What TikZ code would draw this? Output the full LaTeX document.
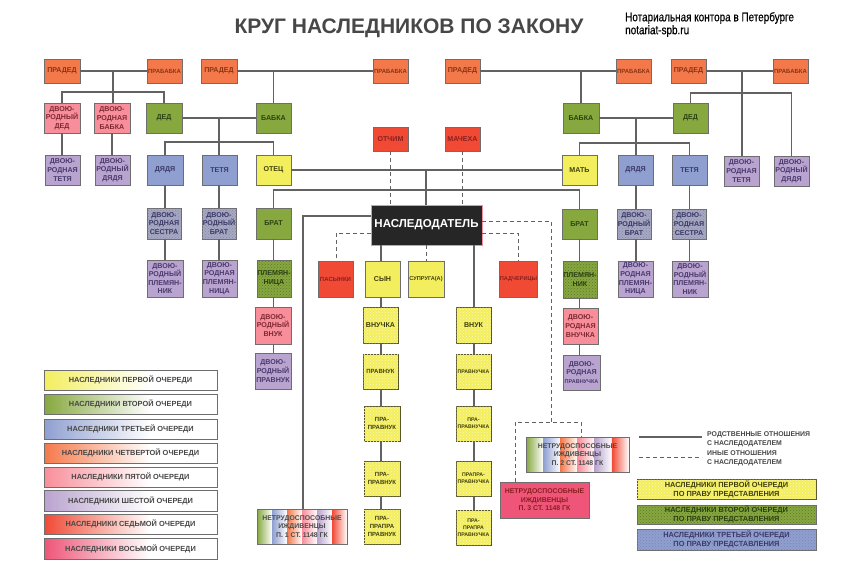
\documentclass[tikz,border=0pt]{standalone}
\usepackage{fontspec}
\setmainfont{Liberation Sans}
\newfontfamily\narrowfont[FakeStretch=0.8,FakeBold=0.4]{Liberation Sans}
\usetikzlibrary{patterns}
\definecolor{cOrange}{HTML}{F4794A}
\definecolor{cPink}{HTML}{F88E9A}
\definecolor{cLilac}{HTML}{B9A3CF}
\definecolor{cGreen}{HTML}{86A83F}
\definecolor{cBlue}{HTML}{8F9FD0}
\definecolor{cYellow}{HTML}{F3EE5E}
\definecolor{cRed}{HTML}{F04A35}
\definecolor{cCrim}{HTML}{EE5578}
\definecolor{cSlate}{HTML}{A6A8C4}
\definecolor{cLine}{HTML}{626262}
\definecolor{cEdge}{HTML}{6E6E6E}
\definecolor{tBlue}{HTML}{3C3A68}
\definecolor{tLilac}{HTML}{4A3A6E}
\definecolor{tRed}{HTML}{8A1F1F}
\definecolor{tOrange}{HTML}{8A3414}
\definecolor{tPink}{HTML}{7E2A34}
\definecolor{tGreen}{HTML}{2C4212}
\definecolor{tYellow}{HTML}{40400C}
\tikzset{
  x=1pt,y=-1pt,
  base/.style={draw=cEdge,line width=0.9pt,inner sep=0pt,align=center,text=black!70,font=\bfseries\fontsize{7.1}{8.6}\selectfont},
  orangebox/.style={base,fill=cOrange,text=tOrange},
  pinkbox/.style={base,fill=cPink,text=tPink},
  lilacbox/.style={base,fill=cLilac,text=tLilac},
  greenbox/.style={base,fill=cGreen,text=tGreen},
  bluebox/.style={base,fill=cBlue,text=tBlue},
  yellowbox/.style={base,fill=cYellow,text=tYellow},
  redbox/.style={base,fill=cRed,text=tRed},
  hatchY/.style={base,fill=cYellow,text=tYellow,draw=black!50!olive,
    postaction={pattern=crosshatch dots,pattern color=white!55!cYellow}},
  hatchG/.style={base,fill=cGreen,text=tGreen,
    postaction={pattern=crosshatch dots,pattern color=black!30!cGreen}},
  hatchB/.style={base,fill=cSlate,text=tBlue,
    postaction={pattern=crosshatch dots,pattern color=black!18!cSlate}},
  hatchL/.style={base,fill=cBlue,text=tBlue,
    postaction={pattern=crosshatch dots,pattern color=black!15!cBlue}},
  keybox/.style={draw=cEdge,line width=0.9pt,inner sep=0pt,align=center,text=black!72,font=\bfseries\fontsize{7.4}{8.8}\selectfont},
  keytwo/.style={font=\bfseries\fontsize{7.4}{8.8}\selectfont},
  deptext/.style={font=\bfseries\fontsize{6.9}{8.6}\selectfont},
  smfont/.style={font=\bfseries\fontsize{6}{8}\selectfont},
  mdfont/.style={font=\bfseries\fontsize{5.6}{7}\selectfont},
  xsfont/.style={font=\bfseries\fontsize{5.2}{7}\selectfont},
  wire/.style={draw=cLine,line width=1.2pt},
  dashwire/.style={draw=cLine,line width=1pt,dash pattern=on 4pt off 3pt},
  plain/.style={inner sep=0pt,align=left,text=black!72,font=\bfseries\fontsize{6.9}{8.8}\selectfont,anchor=west}
}
\newcommand{\bx}[7]{% name style x1 y1 x2 y2 text
  \node[#2,minimum width={(#5-#3)*1pt},minimum height={(#6-#4)*1pt}] (#1) at ({(#3+#5)/2},{(#4+#6)/2}) {#7};}
% legend box fading from a colour into white
\newcommand{\keyb}[5]{% name y1 y2 colour text
  \fill[white] (44,#2) rectangle (217,#3);
  \shade[left color=#4,right color=white] (44,#2) rectangle (150,#3);
  \bx{#1}{keybox}{44}{#2}{217}{#3}{#5}}
% striped box
\newcommand{\stripes}[4]{% x1 y1 x2 y2
  \pgfmathsetmacro{\sw}{(#3-#1)/6}
  \foreach \c [count=\i from 0] in {cGreen,cBlue,cOrange,cPink,cLilac,cRed}{
    \pgfmathsetmacro{\sa}{#1+\i*\sw}
    \pgfmathsetmacro{\sb}{#1+(\i+1)*\sw}
    \shade[left color=\c,right color=white] (\sa,#2) rectangle (\sb,#4);
  }}
\begin{document}
\begin{tikzpicture}
\useasboundingbox (0,0) rectangle (853,581);
\fill[white] (0,0) rectangle (853,581);
% title
\node[inner sep=0pt,text=black!72,font=\bfseries\fontsize{21}{25}\selectfont] (title) at (409,28) {КРУГ НАСЛЕДНИКОВ ПО ЗАКОНУ};
\node[inner sep=0pt,anchor=west,font=\narrowfont\fontsize{12.4}{14}\selectfont] (firm) at (625,18) {Нотариальная контора в Петербурге};
\node[inner sep=0pt,anchor=west,font=\narrowfont\fontsize{12.4}{14}\selectfont] (site) at (625,31) {notariat-spb.ru};
% --- nodes ---
\bx{pdL}{orangebox}{44}{59}{80}{83}{ПРАДЕД}
\bx{pbL}{orangebox,smfont}{147}{59}{182}{83}{ПРАБАБКА}
\bx{pdM}{orangebox}{201}{59}{237}{83}{ПРАДЕД}
\bx{pbM}{orangebox,smfont}{373}{59}{408}{83}{ПРАБАБКА}
\bx{pdC}{orangebox}{445}{59}{480}{83}{ПРАДЕД}
\bx{pbC}{orangebox,smfont}{616}{59}{651}{83}{ПРАБАБКА}
\bx{pdR}{orangebox}{671}{59}{706}{83}{ПРАДЕД}
\bx{pbR}{orangebox,smfont}{773}{59}{808}{83}{ПРАБАБКА}
\bx{ddL}{pinkbox}{44}{103}{80}{133}{ДВОЮ-\\РОДНЫЙ\\ДЕД}
\bx{dbL}{pinkbox}{94}{103}{130}{133}{ДВОЮ-\\РОДНАЯ\\БАБКА}
\bx{dedL}{greenbox}{146}{103}{182}{133}{ДЕД}
\bx{babL}{greenbox}{256}{103}{291}{133}{БАБКА}
\bx{babR}{greenbox}{563}{103}{599}{133}{БАБКА}
\bx{dedR}{greenbox}{673}{103}{708}{133}{ДЕД}
\bx{otchim}{redbox}{373}{127}{408}{151}{ОТЧИМ}
\bx{mach}{redbox}{445}{127}{480}{151}{МАЧЕХА}
\bx{dtL}{lilacbox}{45}{155}{80}{185}{ДВОЮ-\\РОДНАЯ\\ТЕТЯ}
\bx{dyL}{lilacbox}{95}{155}{130}{185}{ДВОЮ-\\РОДНЫЙ\\ДЯДЯ}
\bx{uncL}{bluebox}{147}{155}{183}{185}{ДЯДЯ}
\bx{auntL}{bluebox}{202}{155}{237}{185}{ТЕТЯ}
\bx{father}{yellowbox}{256}{155}{291}{185}{ОТЕЦ}
\bx{mother}{yellowbox}{562}{155}{597}{185}{МАТЬ}
\bx{uncR}{bluebox}{618}{155}{653}{185}{ДЯДЯ}
\bx{auntR}{bluebox}{672}{155}{707}{185}{ТЕТЯ}
\bx{dtR}{lilacbox}{724}{156}{759}{186}{ДВОЮ-\\РОДНАЯ\\ТЕТЯ}
\bx{dyR}{lilacbox}{774}{156}{809}{186}{ДВОЮ-\\РОДНЫЙ\\ДЯДЯ}
\bx{dsL}{hatchB}{147}{208}{181}{239}{ДВОЮ-\\РОДНАЯ\\СЕСТРА}
\bx{dbrL}{hatchB}{202}{208}{236}{239}{ДВОЮ-\\РОДНЫЙ\\БРАТ}
\bx{broL}{greenbox}{256}{208}{291}{239}{БРАТ}
\bx{broR}{greenbox}{562}{209}{597}{239}{БРАТ}
\bx{dbrR}{hatchB}{617}{209}{651}{239}{ДВОЮ-\\РОДНЫЙ\\БРАТ}
\bx{dsR}{hatchB}{672}{209}{706}{239}{ДВОЮ-\\РОДНАЯ\\СЕСТРА}
\node[draw=cPink,line width=0.6pt,fill=black!85,text=white,inner sep=0pt,minimum width=111pt,minimum height=40pt,font=\bfseries\fontsize{11.5}{13}\selectfont] (heir) at (426.5,225) {НАСЛЕДОДАТЕЛЬ};
\bx{pas}{redbox,smfont}{318}{261}{353}{297}{ПАСЫНКИ}
\bx{son}{yellowbox}{365}{261}{400}{297}{СЫН}
\bx{spouse}{yellowbox,mdfont}{408}{261}{444}{297}{СУПРУГА(А)}
\bx{pad}{redbox,mdfont}{500}{261}{537}{297}{ПАДЧЕРИЦЫ}
\bx{plL}{hatchG}{257}{260}{291}{297}{ПЛЕМЯН-\\НИЦА}
\bx{plR}{hatchG}{563}{261}{597}{298}{ПЛЕМЯН-\\НИК}
\bx{dnL}{lilacbox}{147}{260}{183}{297}{ДВОЮ-\\РОДНЫЙ\\ПЛЕМЯН-\\НИК}
\bx{dnM}{lilacbox}{202}{260}{237}{297}{ДВОЮ-\\РОДНАЯ\\ПЛЕМЯН-\\НИЦА}
\bx{dnR}{lilacbox}{618}{261}{653}{297}{ДВОЮ-\\РОДНАЯ\\ПЛЕМЯН-\\НИЦА}
\bx{dnS}{lilacbox}{672}{261}{708}{297}{ДВОЮ-\\РОДНЫЙ\\ПЛЕМЯН-\\НИК}
\bx{vnL}{pinkbox}{255}{307}{291}{344}{ДВОЮ-\\РОДНЫЙ\\ВНУК}
\bx{vnR}{pinkbox}{563}{308}{598}{344}{ДВОЮ-\\РОДНАЯ\\ВНУЧКА}
\bx{prL}{lilacbox}{255}{353}{291}{389}{ДВОЮ-\\РОДНЫЙ\\ПРАВНУК}
\bx{prR}{lilacbox}{563}{355}{600}{390}{ДВОЮ-\\РОДНАЯ\\{\fontsize{5.5}{7}\selectfont ПРАВНУЧКА}}
\bx{g1}{hatchY}{363}{307}{398}{343}{ВНУЧКА}
\bx{g2}{hatchY,smfont}{363}{354}{398}{389}{ПРАВНУК}
\bx{g3}{hatchY,smfont}{364}{406}{400}{441}{ПРА-\\ПРАВНУК}
\bx{g4}{hatchY,smfont}{364}{461}{400}{496}{ПРА-\\ПРАВНУК}
\bx{g5}{hatchY,smfont}{364}{509}{400}{544}{ПРА-\\ПРАПРА\\ПРАВНУК}
\bx{h1}{hatchY}{456}{307}{491}{343}{ВНУК}
\bx{h2}{hatchY,xsfont}{456}{354}{491}{389}{ПРАВНУЧКА}
\bx{h3}{hatchY,xsfont}{456}{406}{491}{441}{ПРА-\\ПРАВНУЧКА}
\bx{h4}{hatchY,xsfont}{456}{461}{491}{496}{ПРАПРА-\\ПРАВНУЧКА}
\bx{h5}{hatchY,xsfont}{456}{510}{491}{545}{ПРА-\\ПРАПРА\\ПРАВНУЧКА}
% striped and crimson boxes
\stripes{257}{509}{347}{544}
\bx{dep1}{base,deptext}{257}{509}{347}{544}{НЕТРУДОСПОСОБНЫЕ\\ИЖДИВЕНЦЫ\\П. 1 СТ. 1148 ГК}
\stripes{526}{437}{629}{472}
\bx{dep2}{base,deptext}{526}{437}{629}{472}{НЕТРУДОСПОСОБНЫЕ\\ИЖДИВЕНЦЫ\\П. 2 СТ. 1148 ГК}
\bx{dep3}{base,deptext,fill=cCrim,text=tRed}{500}{482}{589}{518}{НЕТРУДОСПОСОБНЫЕ\\ИЖДИВЕНЦЫ\\П. 3 СТ. 1148 ГК}
% --- connectors ---
\coordinate (j1) at (113,71);
\coordinate (j2) at (113,92);
\draw[wire] (pdL) -- (pbL);
\draw[wire] (j1) -- (dbL.north-|j1);
\draw[wire] (ddL.north) |- (j2) -| (dedL.north);
\draw[wire] (ddL.south) -- (dtL.north-|ddL);
\draw[wire] (dbL.south) -- (dyL.north-|dbL);
\draw[wire] (dedL) -- (babL);
\coordinate (j3) at (219,118);
\coordinate (j4) at (219,142);
\draw[wire] (j3) -- (auntL.north-|j3);
\draw[wire] (uncL.north) |- (j4) -| (father.north);
\draw[wire] (uncL.south) -- (dsL.north-|uncL);
\draw[wire] (auntL.south-|j3) -- (dbrL.north-|j3);
\draw[wire] (dsL.south-|uncL) -- (dnL.north-|uncL);
\draw[wire] (dbrL.south-|j3) -- (dnM.north-|j3);
\draw[wire] (pdM) -- (pbM);
\draw[wire] (pdC) -- (pbC);
\draw[wire] (babL.north) -- (babL.north|-pdM);
\draw[wire] (babR.north) -- (babR.north|-pbC);
\draw[wire] (father) -- (mother);
\coordinate (j5) at (426,170);
\draw[wire] (j5) -- (heir.north-|j5);
\coordinate (j6) at (426,190);
\draw[wire] (broL.north) |- (j6) -| (broR.north);
\draw[wire] (broL.south) -- (plL.north-|broL);
\draw[wire] (plL.south-|broL) -- (vnL.north-|broL);
\draw[wire] (vnL.south-|broL) -- (prL.north-|broL);
\draw[wire] (broR.south) -- (plR.north-|broR);
\draw[wire] (plR.south-|broR) -- (vnR.north-|broR);
\draw[wire] (vnR.south-|broR) -- (prR.north-|broR);
\draw[dashwire] (otchim) -- (heir.north-|otchim);
\draw[dashwire] (mach) -- (heir.north-|mach);
\coordinate (j7) at (303,216);
\draw[wire] (heir.west|-j7) -- (j7) -- (dep1.north-|j7);
\coordinate (j8) at (381,245);
\draw[wire] (j8) -- (son.north-|j8);
\draw[wire] (son.south-|j8) -- (g1.north-|j8);
\draw[wire] (g1.south-|j8) -- (g2.north-|j8);
\draw[wire] (g2.south-|j8) -- (g3.north-|j8);
\draw[wire] (g3.south-|j8) -- (g4.north-|j8);
\draw[wire] (g4.south-|j8) -- (g5.north-|j8);
\coordinate (j9) at (474,245);
\draw[wire] (j9) -- (h1.north-|j9);
\draw[wire] (h1.south-|j9) -- (h2.north-|j9);
\draw[wire] (h2.south-|j9) -- (h3.north-|j9);
\draw[wire] (h3.south-|j9) -- (h4.north-|j9);
\draw[wire] (h4.south-|j9) -- (h5.north-|j9);
\draw[dashwire] (heir.south-|spouse) -- (spouse.north);
\coordinate (j10) at (336,233);
\coordinate (j11) at (518,233);
\draw[dashwire] (heir.west|-j10) -- (j10) -- (pas.north-|j10);
\draw[dashwire] (heir.east|-j11) -- (j11) -- (pad.north-|j11);
\coordinate (j12) at (551,221);
\coordinate (j13) at (551,422);
\coordinate (j14) at (515,422);
\coordinate (j15) at (581,422);
\draw[dashwire] (heir.east|-j12) -- (j12) -- (j13);
\draw[dashwire] (dep3.north-|j14) -- (j14) -- (j15) -- (dep2.north-|j15);
\coordinate (j16) at (636,119);
\coordinate (j17) at (636,143);
\draw[wire] (babR) -- (dedR);
\draw[wire] (j16) -- (uncR.north-|j16);
\draw[wire] (mother.north) |- (j17) -| (auntR.north);
\draw[wire] (uncR.south-|j16) -- (dbrR.north-|j16);
\draw[wire] (dbrR.south-|j16) -- (dnR.north-|j16);
\draw[wire] (auntR.south) -- (dsR.north-|auntR);
\draw[wire] (dsR.south-|auntR) -- (dnS.north-|auntR);
\draw[wire] (pdR) -- (pbR);
\coordinate (j18) at (742,72);
\coordinate (j19) at (742,93);
\draw[wire] (j18) -- (dtR.north-|j18);
\draw[wire] (dedR.north) |- (j19) -| (dyR.north);
% --- keys ---
\keyb{k1}{370}{390}{cYellow}{НАСЛЕДНИКИ ПЕРВОЙ ОЧЕРЕДИ}
\keyb{k2}{394}{414}{cGreen}{НАСЛЕДНИКИ ВТОРОЙ ОЧЕРЕДИ}
\keyb{k3}{419}{439}{cBlue}{НАСЛЕДНИКИ ТРЕТЬЕЙ ОЧЕРЕДИ}
\keyb{k4}{443}{463}{cOrange}{НАСЛЕДНИКИ ЧЕТВЕРТОЙ ОЧЕРЕДИ}
\keyb{k5}{467}{487}{cPink}{НАСЛЕДНИКИ ПЯТОЙ ОЧЕРЕДИ}
\keyb{k6}{490}{511}{cLilac}{НАСЛЕДНИКИ ШЕСТОЙ ОЧЕРЕДИ}
\keyb{k7}{514}{534}{cRed}{НАСЛЕДНИКИ СЕДЬМОЙ ОЧЕРЕДИ}
\keyb{k8}{538}{559}{cCrim}{НАСЛЕДНИКИ ВОСЬМОЙ ОЧЕРЕДИ}
\coordinate (a1) at (639,437);
\coordinate (a2) at (702,437);
\coordinate (b1) at (639,457);
\coordinate (b2) at (702,457);
\draw[wire] (a1) -- (a2);
\draw[dashwire] (b1) -- (b2);
\node[plain] (t1) at (707,439.5) {РОДСТВЕННЫЕ ОТНОШЕНИЯ\\С НАСЛЕДОДАТЕЛЕМ};
\node[plain] (t2) at (707,458.5) {ИНЫЕ ОТНОШЕНИЯ\\С НАСЛЕДОДАТЕЛЕМ};
\bx{r1}{hatchY,keytwo}{637}{479}{816}{499}{НАСЛЕДНИКИ ПЕРВОЙ ОЧЕРЕДИ\\ПО ПРАВУ ПРЕДСТАВЛЕНИЯ}
\bx{r2}{hatchG,keytwo}{637}{505}{816}{524}{НАСЛЕДНИКИ ВТОРОЙ ОЧЕРЕДИ\\ПО ПРАВУ ПРЕДСТАВЛЕНИЯ}
\bx{r3}{hatchL,keytwo}{637}{529}{816}{550}{НАСЛЕДНИКИ ТРЕТЬЕЙ ОЧЕРЕДИ\\ПО ПРАВУ ПРЕДСТАВЛЕНИЯ}
\end{tikzpicture}
\end{document}
